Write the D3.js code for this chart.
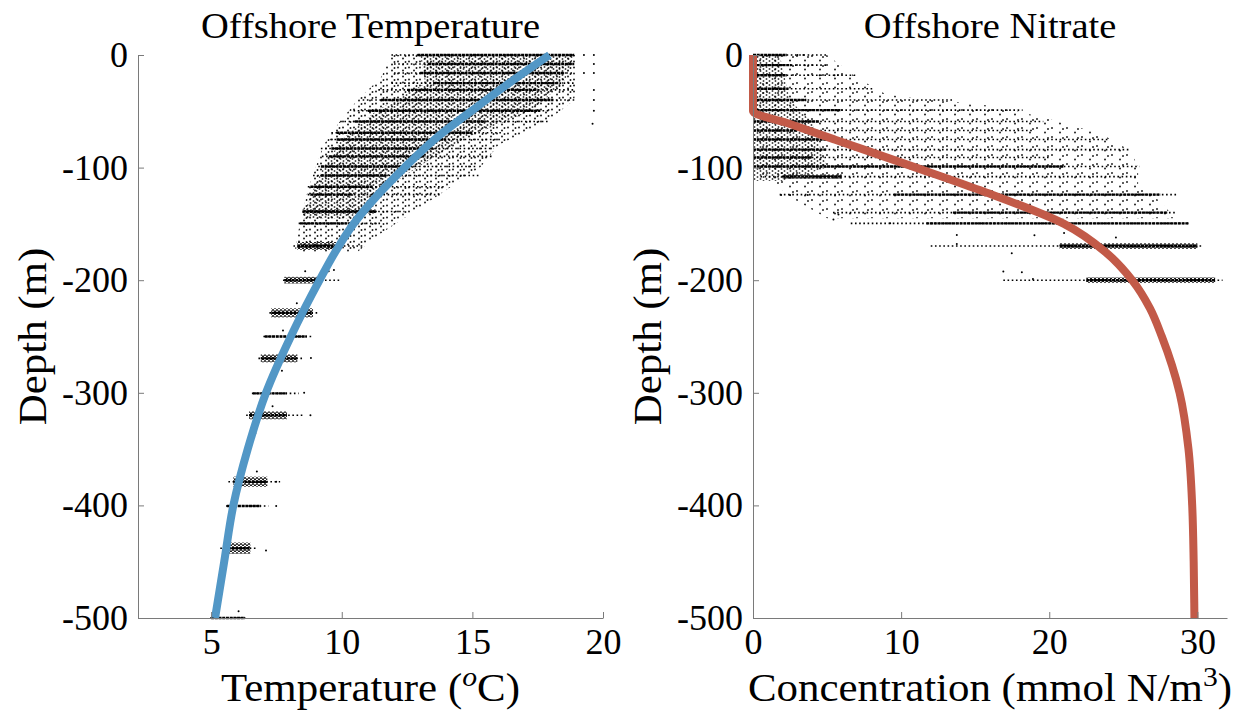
<!DOCTYPE html>
<html>
<head>
<meta charset="utf-8">
<script src="https://cdn.jsdelivr.net/npm/d3@7"></script>
<style>
    body { margin: 0; background: #fff; }
    text { font-family: "Liberation Serif", "DejaVu Serif", serif; fill: #000; }
</style>
</head>
<body>
<svg id="chart" width="1236" height="713"></svg>
<script>
// ---- data ----
const depthTicks = [0, -100, -200, -300, -400, -500];
const tempTicks = [5, 10, 15, 20];
const nitTicks = [0, 10, 20, 30];

// fitted profiles (depth m, value)
const tempCurveDepth = [0, -25, -50, -75, -100, -125, -150, -175, -200, -250, -300, -350, -400, -450, -500];
const tempCurveValue = [17.95, 16.4, 14.95, 13.55, 12.4, 11.35, 10.45, 9.75, 9.15, 8.05, 7.1, 6.4, 5.85, 5.5, 5.15];
const nitCurveDepth = [0, -50, -60, -75, -100, -120, -150, -175, -200, -225, -250, -300, -350, -400, -450, -500];
const nitCurveValue = [0, 0, 2.2, 5.5, 11, 15.3, 21.0, 23.8, 25.6, 26.8, 27.6, 28.8, 29.4, 29.65, 29.75, 29.8];

// observation rows: [depth, min, dense start, dense end, max, vertical scatter (m)]
const tempRows = [
    [0, 11.9, 12.9, 18.9, 18.95, 1.2],
    [-8, 12.0, 13.3, 18.9, 18.9, 1.2],
    [-16, 12.0, 13.0, 18.5, 18.9, 1.2],
    [-25, 11.9, 13.5, 18.3, 18.9, 1.2],
    [-31, 11.4, 12.5, 17.5, 18.9, 1.2],
    [-40, 10.8, 11.5, 18.1, 18.9, 1.2],
    [-49.5, 10.45, 11.0, 17.6, 18.0, 1.2],
    [-59, 9.94, 10.5, 15.5, 17.9, 1.2],
    [-69, 9.6, 9.8, 15.0, 16.1, 1.2],
    [-75, 9.56, 9.8, 14.0, 16.1, 1.2],
    [-83, 9.2, 9.6, 13.5, 15.8, 1.2],
    [-90, 9.24, 9.5, 13.2, 15.8, 1.2],
    [-99, 9.1, 9.2, 12.5, 15.2, 1.2],
    [-107, 8.9, 9.2, 11.7, 15.3, 1.2],
    [-117, 8.7, 8.8, 11.2, 13.9, 1.2],
    [-124, 8.7, 8.8, 10.4, 13.8, 1.2],
    [-139, 8.5, 8.5, 11.3, 12.4, 1.8],
    [-149.5, 8.35, 8.4, 10.6, 11.55, 1.0],
    [-169.6, 8.15, 8.3, 9.9, 10.8, 3.5],
    [-200, 7.75, 7.8, 9.2, 9.95, 3.0],
    [-229, 7.23, 7.3, 8.9, 9.15, 4.0],
    [-250, 7.0, 7.05, 8.66, 8.92, 0.7],
    [-269.4, 6.81, 6.9, 8.3, 8.54, 3.5],
    [-300.5, 6.56, 6.6, 7.9, 8.35, 0.8],
    [-320, 6.34, 6.45, 7.9, 8.54, 3.5],
    [-379, 5.66, 5.85, 7.15, 7.64, 4.5],
    [-400.5, 5.57, 5.6, 6.9, 7.19, 0.8],
    [-438, 5.35, 5.5, 6.5, 6.75, 5.0],
    [-500, 4.96, 5.0, 6.3, 6.37, 0.5]
];
// loose cloud of observations around the upper rows: [depth, min, max]
const tempCloud = [
    [0, 11.9, 19.0], [-20, 11.5, 19.0], [-40, 10.6, 18.9], [-60, 9.9, 17.8],
    [-80, 9.3, 16.0], [-100, 9.0, 15.3], [-120, 8.7, 14.0], [-140, 8.5, 12.7],
    [-160, 8.3, 11.4], [-175, 8.2, 10.6]
];
// where the cloud is thickest: [depth, min, max]
const tempDense = [
    [0, 13.0, 18.9], [-25, 13.2, 18.5], [-50, 11.3, 17.2], [-75, 10.0, 14.6],
    [-100, 9.3, 12.9], [-125, 8.8, 11.2], [-145, 8.5, 10.5]
];
// isolated observations: [depth, value]
const tempOutliers = [
    [0, 19.27], [0, 19.65], [-8, 19.65], [-16, 19.27], [-16, 19.65], [-31, 19.65],
    [-40, 19.65], [-49.5, 19.65], [-61, 19.6], [-192, 8.6], [-192, 9.5], [-191, 9.7],
    [-220.5, 8.28], [-244.6, 7.75], [-269, 8.82], [-300, 8.56], [-320, 8.8],
    [-280.4, 7.71], [-312, 7.35], [-336, 6.69], [-370, 6.75], [-379, 7.49],
    [-400.5, 7.49], [-440, 7.1], [-494, 6.05]
];

const nitRows = [
    [0, 0, 0, 2.3, 5.0, 1.0],
    [-9, 0, 0, 2.6, 5.0, 1.0],
    [-18, 0, 0, 2.3, 6.9, 1.2],
    [-30, 0, 0, 2.4, 8.2, 1.2],
    [-40, 0, 0, 3.6, 13.6, 1.2],
    [-49, 0, 0, 5.9, 18.2, 1.2],
    [-59, 0, 0, 4.5, 19.6, 1.2],
    [-67, 0, 0, 3.0, 19.0, 1.2],
    [-75, 0, 0, 6.0, 24.0, 1.2],
    [-84, 0, 0, 5.0, 25.5, 1.2],
    [-91, 0, 0, 4.0, 20.0, 1.2],
    [-99, 0, 0, 21.0, 26.1, 1.0],
    [-108, 0.5, 2.0, 6.0, 25.9, 2.0],
    [-124, 1.8, 9.5, 27.5, 28.6, 1.2],
    [-140, 5.4, 13.5, 28.0, 28.6, 1.2],
    [-149.5, 6.6, 11.7, 29.4, 29.4, 0.8],
    [-169.6, 12.0, 20.7, 30.0, 30.4, 2.5],
    [-200, 16.9, 22.5, 31.2, 31.7, 2.5]
];
const nitCloud = [
    [0, 0, 5], [-20, 0, 7], [-35, 0, 9], [-45, 0, 16], [-55, 0, 19.5], [-70, 0, 23.5],
    [-85, 0, 25.5], [-100, 0, 26], [-115, 1.5, 26], [-130, 3, 27.5], [-145, 5, 28.5]
];
// dense column of near-zero nitrate in the surface layer: [depth, min, max]
const nitDense = [[0, 0, 1.8], [-40, 0, 2.5], [-60, 0, 4.0], [-100, 0, 5.0], [-112, 0, 2.0]];
const nitOutliers = [
    [-159.9, 13.76], [-167.9, 13.76], [-176, 17.47], [-192.3, 16.9], [-193, 18.15],
    [-199, 18.9], [-146, 5.43], [-141.6, 5.77], [-149.5, 9.26], [-124.3, 1.9],
    [-124.3, 2.5], [-124.3, 3.7], [-160, 19.0], [-158, 21.0], [-162, 24.5],
    [0, 3.0], [0, 3.4], [-9, 3.5], [-18, 4.5], [-18, 5.5]
];

// ---- layout ----
const W = 1236, H = 713;
const plotTop = 55, plotBottom = 618;
const svg = d3.select("#chart");
svg.append("rect").attr("width", W).attr("height", H).attr("fill", "#fff");

const y = d3.scaleLinear().domain([-500, 0]).range([plotBottom, plotTop]);

// dot textures used to fill the observation bands
const defs = svg.append("defs");
const textures = {
    dense: { w: 4, h: 3, dots: [[1, 1], [3, 2.3]] },
    medium: { w: 6, h: 4, dots: [[1.5, 1], [4.5, 3]] },
    cloud: { w: 11, h: 6, dots: [[2, 1.5], [7, 4.5], [9.5, 2]] },
    sparse: { w: 15, h: 9, dots: [[2, 2], [10, 6.5], [13, 3]] }
};
Object.entries(textures).forEach(([name, t]) => {
    const p = defs.append("pattern").attr("id", "dots-" + name)
        .attr("patternUnits", "userSpaceOnUse").attr("width", t.w).attr("height", t.h);
    t.dots.forEach(([cx, cy]) => p.append("circle").attr("cx", cx).attr("cy", cy).attr("r", 0.95).attr("fill", "#000"));
});

// LaTeX text is wider than Times; stretch horizontally around the anchor point
const STRETCH = 1.1;

function drawPanel(opts) {
    const x = d3.scaleLinear().domain(opts.domain).range(opts.range);
    const g = svg.append("g");
    const area = d3.area().y(d => y(d[0])).x0(d => x(d[1])).x1(d => x(d[2]));

    // loose cloud and its thickest part
    g.append("path").datum(opts.cloud).attr("d", area)
        .attr("fill", `url(#dots-${opts.cloudTexture})`).attr("opacity", 0.9);
    g.append("path").datum(opts.dense).attr("d", area)
        .attr("fill", "url(#dots-medium)").attr("opacity", 0.75);

    // observation rows
    const rows = g.selectAll(".row").data(opts.rows).enter().append("g").attr("class", "row");
    rows.append("line")
        .attr("x1", d => x(d[1])).attr("x2", d => x(d[4]))
        .attr("y1", d => y(d[0])).attr("y2", d => y(d[0]))
        .attr("stroke", "#000").attr("stroke-width", 1.6).attr("stroke-dasharray", "1.6 2.6");
    rows.filter(d => d[5] > 1.5).append("rect")
        .attr("x", d => x(d[2])).attr("width", d => x(d[3]) - x(d[2]))
        .attr("y", d => y(d[0] + d[5])).attr("height", d => y(d[0] - d[5]) - y(d[0] + d[5]))
        .attr("fill", "url(#dots-dense)");
    rows.append("line")
        .attr("x1", d => x(d[2])).attr("x2", d => x(d[3]))
        .attr("y1", d => y(d[0])).attr("y2", d => y(d[0]))
        .attr("stroke", "#000").attr("stroke-width", 2.4).attr("stroke-dasharray", "3 0.7");

    g.selectAll(".out").data(opts.outliers).enter().append("circle")
        .attr("cx", d => x(d[1])).attr("cy", d => y(d[0])).attr("r", 1).attr("fill", "#000");

    // fitted profile
    const pts = opts.curveDepth.map((dep, i) => [dep, opts.curveValue[i]]);
    g.append("path").datum(pts)
        .attr("d", d3.line().x(d => x(d[1])).y(d => y(d[0])).curve(d3.curveMonotoneY))
        .attr("fill", "none").attr("stroke", opts.color).attr("stroke-width", 8);

    // axes (MATLAB style: box off, ticks inward)
    const xAxis = g.append("g").attr("transform", `translate(0,${plotBottom})`)
        .call(d3.axisBottom(x).tickValues(opts.ticks).tickSize(-6).tickSizeOuter(0).tickPadding(10).tickFormat(d3.format("d")));
    const yAxis = g.append("g").attr("transform", `translate(${opts.range[0]},0)`)
        .call(d3.axisLeft(y).tickValues(depthTicks).tickSize(-6).tickSizeOuter(0).tickPadding(10).tickFormat(d => d === 0 ? "0" : "-" + Math.abs(d)));
    [xAxis, yAxis].forEach(a => {
        a.select(".domain").attr("stroke", "#7a7a7a").attr("stroke-width", 1);
        a.selectAll(".tick line").attr("stroke", "#7a7a7a");
        a.selectAll("text").attr("font-size", 36).attr("font-family", null).attr("fill", "#000");
    });

    const cx = (opts.range[0] + opts.range[1]) / 2;
    g.append("text").attr("transform", `translate(${cx},38) scale(${STRETCH},1)`)
        .attr("text-anchor", "middle").attr("font-size", 35).text(opts.title);

    const xl = g.append("text").attr("transform", `translate(${cx},701) scale(${STRETCH},1)`)
        .attr("text-anchor", "middle").attr("font-size", 39);
    opts.xlabel(xl);

    g.append("text")
        .attr("transform", `translate(${opts.range[0] - 92},${(plotTop + plotBottom) / 2}) rotate(-90) scale(${STRETCH},1)`)
        .attr("text-anchor", "middle").attr("font-size", 39).text("Depth (m)");
}

drawPanel({
    domain: [2.2, 20], range: [138, 603], ticks: tempTicks,
    rows: tempRows, cloud: tempCloud, cloudTexture: "cloud", dense: tempDense, outliers: tempOutliers,
    curveDepth: tempCurveDepth, curveValue: tempCurveValue, color: "#5297c6",
    title: "Offshore Temperature",
    xlabel: t => {
        t.append("tspan").text("Temperature (");
        t.append("tspan").attr("font-size", 27).attr("font-style", "italic").attr("dy", -15).text("o");
        t.append("tspan").attr("dy", 15).text("C)");
    }
});

drawPanel({
    domain: [0, 32], range: [753, 1227], ticks: nitTicks,
    rows: nitRows, cloud: nitCloud, cloudTexture: "sparse", dense: nitDense, outliers: nitOutliers,
    curveDepth: nitCurveDepth, curveValue: nitCurveValue, color: "#c25a48",
    title: "Offshore Nitrate",
    xlabel: t => {
        t.append("tspan").text("Concentration (mmol N/m");
        t.append("tspan").attr("font-size", 27).attr("dy", -15).text("3");
        t.append("tspan").attr("dy", 15).text(")");
    }
});
</script>
</body>
</html>
